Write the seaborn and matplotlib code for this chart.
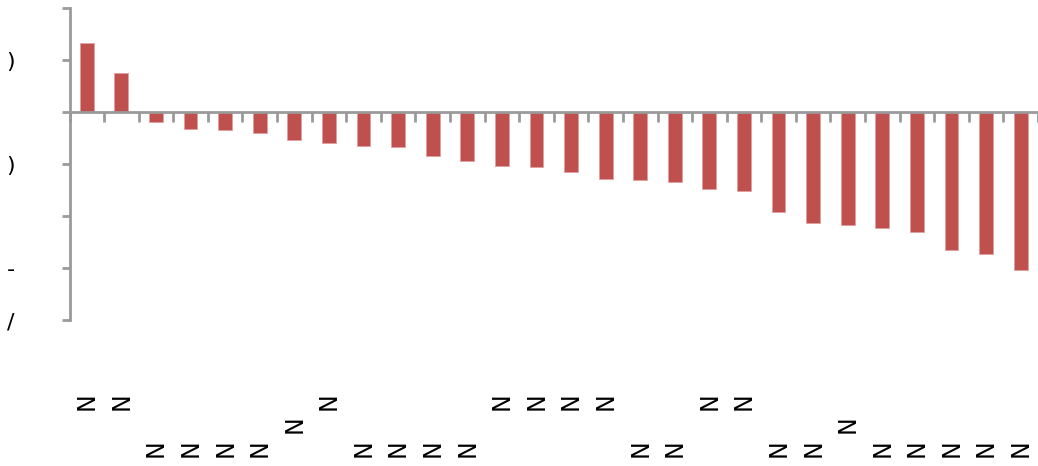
import matplotlib
matplotlib.use("Agg")
import matplotlib.pyplot as plt
import seaborn as sns
import numpy as np
import pandas as pd

# ---- data ----
categories = list(range(28))
values = [1.33, 0.75, -0.19, -0.33, -0.35, -0.40, -0.54, -0.60, -0.65, -0.68,
          -0.84, -0.94, -1.04, -1.06, -1.15, -1.29, -1.31, -1.35, -1.48, -1.51,
          -1.92, -2.13, -2.17, -2.24, -2.31, -2.66, -2.74, -3.04]
x_labels = ["N"] * 28
# row of each x label: 0 = high, 1 = middle, 2 = low
label_rows = [0, 0, 2, 2, 2, 2, 1, 0, 2, 2, 2, 2, 0, 0, 0, 0, 2, 2, 0, 0,
              2, 2, 1, 2, 2, 2, 2, 2]
y_ticks = [2, 1, 0, -1, -2, -3, -4]
y_tick_labels = ["", ")", "", ")", "", "-", "/"]

sns.set_theme(style="white")
plt.rcParams['font.family'] = ['DejaVu Sans']

fig = plt.figure(figsize=(10.38, 4.66), dpi=100)
ax = fig.add_axes([69.5 / 1038, 1 - 320 / 466, (1038 - 69.5) / 1038, 312 / 466])

df = pd.DataFrame({"cat": categories, "val": values})
sns.barplot(data=df, x="cat", y="val", color="#C0504D", saturation=1,
            width=0.4, edgecolor="#E0A0A0", linewidth=0.6, ax=ax)

ax.set_xlim(-0.5, 27.5)
ax.set_ylim(-4, 2)
ax.set_xlabel("")
ax.set_ylabel("")

axis_color = "#9A9A9A"
for s in ["top", "right"]:
    ax.spines[s].set_visible(False)
ax.spines["left"].set_color(axis_color)
ax.spines["left"].set_linewidth(2)
ax.spines["bottom"].set_position(("data", 0))
ax.spines["bottom"].set_color(axis_color)
ax.spines["bottom"].set_linewidth(2)

# y axis
ax.set_yticks(y_ticks)
ax.set_yticklabels(y_tick_labels, fontsize=16, ha="left", color="black")
ax.tick_params(axis="y", direction="out", length=6, width=2, color=axis_color,
               pad=(69.5 - 6 - 9) * 0.72, left=True)

# x axis: minor ticks at category boundaries, labels at centres
ax.set_xticks(np.arange(len(categories)))
ax.set_xticks(np.arange(-0.5, len(categories) + 0.5, 1), minor=True)
ax.tick_params(axis="x", which="major", length=0, bottom=True)
ax.tick_params(axis="x", which="minor", direction="out", length=7, width=2,
               color=axis_color, bottom=True)
ax.set_xticklabels(x_labels, rotation=90, fontsize=17, va="top", ha="center",
                   color="black")
row_pads = [280, 303, 327]
for tick, r in zip(ax.xaxis.get_major_ticks(), label_rows):
    tick.set_pad(row_pads[r] * 72 / 100)

fig.savefig("out.png", dpi=100)
